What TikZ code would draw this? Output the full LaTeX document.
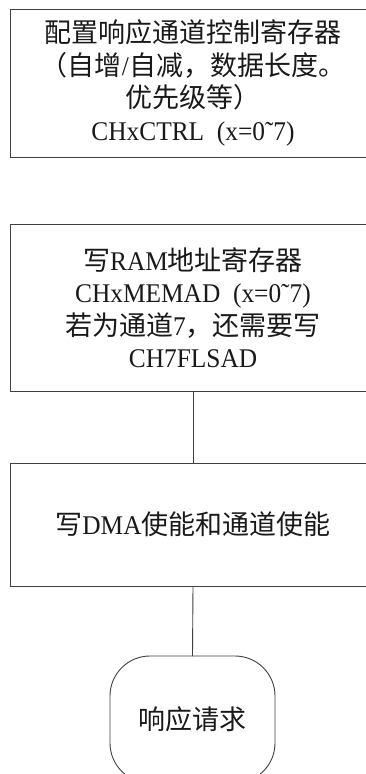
\documentclass[tikz,border=0pt]{standalone}
\usepackage{fontspec}
\setmainfont{Noto Sans CJK SC}
\newfontfamily\latf[FakeStretch=0.94]{Liberation Serif}
\newcommand\latn[1]{{\latf #1}}
\begin{document}
\begin{tikzpicture}[x=1pt,y=-1pt,
  every node/.style={inner sep=0pt, outer sep=0pt},
  procbox/.style={draw=black!75, line width=0.9pt, rectangle, minimum width=366pt,
     align=center, text=black!90, font=\fontsize{27}{32.5}\selectfont},
  termbox/.style={draw=black!75, line width=0.9pt, rectangle, rounded corners=40pt,
     minimum width=165pt, minimum height=127pt, align=center, text=black!90,
     font=\fontsize{27}{32.5}\selectfont},
  link/.style={draw=black!75, line width=0.9pt}]
\useasboundingbox (0,0) rectangle (366,774);
\clip (0,0) rectangle (366,774);
\node[procbox, minimum height=148pt] (b1) at (193,83)
  {配置响应通道控制寄存器\\（自增\latn{/}自减，数据长度。\\优先级等）\\\latn{CHxCTRL\ \ (x=0˜7)}};
\node[procbox, minimum height=167pt] (b2) at (193,307.5)
  {写\latn{RAM}地址寄存器\\\latn{CHxMEMAD\ \ (x=0˜7)}\\若为通道\latn{7}，还需要写\\\latn{CH7FLSAD}};
\node[procbox, minimum height=123pt] (b3) at (193,524.5)
  {写\latn{DMA}使能和通道使能};
\node[termbox] (t) at (192.5,719.5) {响应请求};
\draw[link] (b2.south) -- (b3.north);
\draw[link] (b3.south) -- (t.north);
\end{tikzpicture}
\end{document}
